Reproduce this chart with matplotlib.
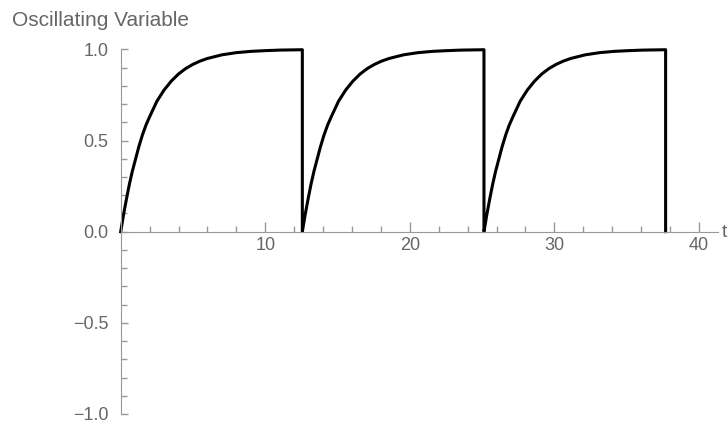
import matplotlib
matplotlib.use("Agg")
import matplotlib.pyplot as plt
from matplotlib.ticker import MultipleLocator

plt.rcParams['font.family'] = ['Liberation Sans', 'DejaVu Sans']

# one period of the curve
t_period = [0, 0.2, 0.4, 0.6, 0.8, 1.0, 1.25, 1.5, 1.75, 2, 2.5, 3, 3.5, 4,
            4.5, 5, 5.5, 6, 7, 8, 9, 10, 11, 12.566]
v_period = [0, 0.095, 0.18, 0.26, 0.33, 0.39, 0.465, 0.53, 0.585, 0.63, 0.715,
            0.777, 0.826, 0.865, 0.895, 0.918, 0.936, 0.95, 0.97, 0.982,
            0.989, 0.993, 0.996, 0.998]
period_starts = [0, 12.566, 25.133]

xs, ys = [], []
for s in period_starts:
    xs += [s + t for t in t_period]
    ys += v_period
    # drop back to zero at the end of the period
    xs.append(s + t_period[-1])
    ys.append(0)

fig = plt.figure(figsize=(7.28, 4.23), dpi=100)
ax = fig.add_axes([0.1658, 0.0213, 0.82, 0.862])

ax.plot(xs, ys, color='black', lw=2.2, clip_on=False, solid_joinstyle='round')

ax.set_xlim(0, 41.3)
ax.set_ylim(-1, 1)

gray = '#999999'
txt = '#666666'
for side in ['top', 'right']:
    ax.spines[side].set_visible(False)
ax.spines['bottom'].set_position(('data', 0))
ax.spines['left'].set_position(('data', 0))
ax.spines['bottom'].set_color(gray)
ax.spines['left'].set_color(gray)

ax.xaxis.set_minor_locator(MultipleLocator(2))
ax.yaxis.set_minor_locator(MultipleLocator(0.1))
ax.set_xticks([10, 20, 30, 40])
ax.set_yticks([-1.0, -0.5, 0.0, 0.5, 1.0])
ax.set_yticklabels(['\u22121.0', '\u22120.5', '0.0', '0.5', '1.0'])

ax.tick_params(axis='x', which='major', direction='in', length=7, width=1,
               color=gray, labelcolor=txt, labelsize=13, pad=4)
ax.tick_params(axis='x', which='minor', direction='in', length=4, width=1,
               color=gray)
ax.tick_params(axis='y', which='major', direction='in', length=5, width=1,
               color=gray, labelcolor=txt, labelsize=13, pad=9)
ax.tick_params(axis='y', which='minor', direction='in', length=4, width=1,
               color=gray)

fig.text(12 / 728, 1 - 20 / 423, 'Oscillating Variable', color=txt,
         fontsize=15, ha='left', va='center')
fig.text(722 / 728, 1 - 232 / 423, 't', color=txt, fontsize=14,
         ha='left', va='center')

fig.savefig('out.png', dpi=100)
